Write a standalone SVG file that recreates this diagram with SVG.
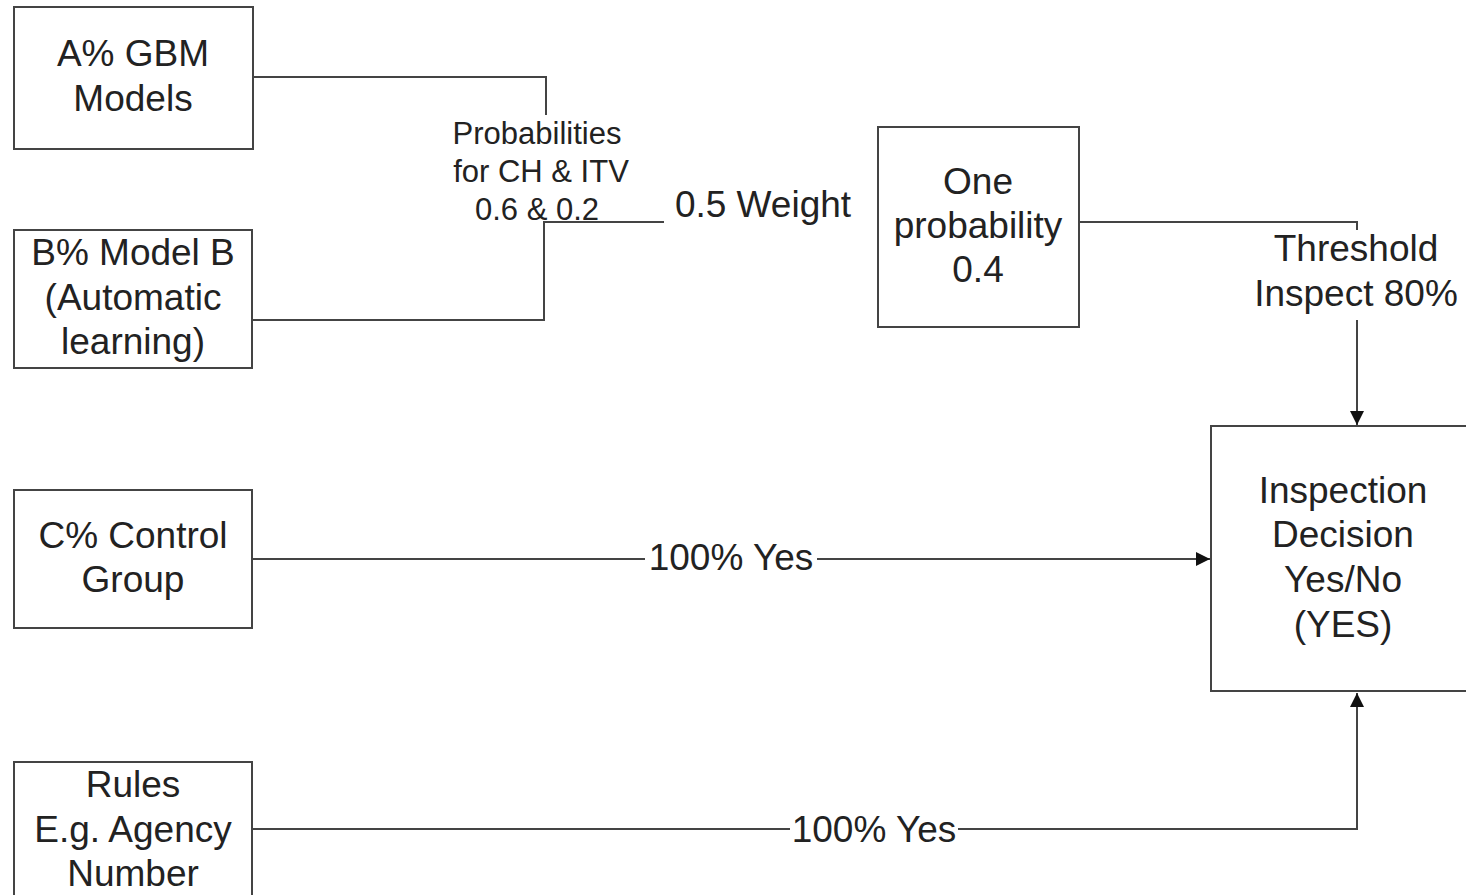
<svg xmlns="http://www.w3.org/2000/svg" width="1466" height="895" viewBox="0 0 1466 895">
<defs>
<style>
.box{fill:#fff;stroke:#444;stroke-width:2}
.ln{fill:none;stroke:#444;stroke-width:2}
text{font-family:"Liberation Sans",Arial,sans-serif;fill:#222;text-anchor:middle}
.t{font-size:37px}
.s{font-size:31px}
</style>
<marker id="arr" viewBox="0 0 10 10" refX="10" refY="5" markerWidth="14" markerHeight="14" markerUnits="userSpaceOnUse" orient="auto">
<path d="M0,0 L10,5 L0,10 Z" fill="#111"/>
</marker>
</defs>
<rect width="1466" height="895" fill="#fff"/>
<g id="connectors">
<path class="ln" d="M253,77 H546 V115"/>
<path class="ln" d="M252,320 H544 V222 H664"/>
<path class="ln" d="M1079,222 H1357 V230"/>
<path class="ln" d="M1357,320 V425" marker-end="url(#arr)"/>
<path class="ln" d="M252,559 H645"/>
<path class="ln" d="M817,559 H1210" marker-end="url(#arr)"/>
<path class="ln" d="M252,829 H790"/>
<path class="ln" d="M958,829 H1357 V693" marker-end="url(#arr)"/>
<text class="s" x="537" y="144">Probabilities</text>
<text class="s" x="541" y="182">for CH &amp; ITV</text>
<text class="s" x="537" y="220">0.6 &amp; 0.2</text>
<text class="t" x="763" y="217">0.5 Weight</text>
<text class="t" x="1356" y="261">Threshold</text>
<text class="t" x="1356" y="306">Inspect 80%</text>
<text class="t" x="731" y="570">100% Yes</text>
<text class="t" x="874" y="842">100% Yes</text>
</g>
<g id="nodeA">
<rect class="box" x="14" y="7" width="239" height="142"/>
<text class="t" x="133" y="66">A% GBM</text>
<text class="t" x="133" y="111">Models</text>
</g>
<g id="nodeB">
<rect class="box" x="14" y="230" width="238" height="138"/>
<text class="t" x="133" y="265">B% Model B</text>
<text class="t" x="133" y="310">(Automatic</text>
<text class="t" x="133" y="354">learning)</text>
</g>
<g id="nodeC">
<rect class="box" x="14" y="490" width="238" height="138"/>
<text class="t" x="133" y="548">C% Control</text>
<text class="t" x="133" y="592">Group</text>
</g>
<g id="nodeRules">
<rect class="box" x="14" y="762" width="238" height="150"/>
<text class="t" x="133" y="797">Rules</text>
<text class="t" x="133" y="842">E.g. Agency</text>
<text class="t" x="133" y="886">Number</text>
</g>
<g id="nodeOne">
<rect class="box" x="878" y="127" width="201" height="200"/>
<text class="t" x="978" y="194">One</text>
<text class="t" x="978" y="238">probability</text>
<text class="t" x="978" y="282">0.4</text>
</g>
<g id="nodeInspection">
<rect class="box" x="1211" y="426" width="270" height="265"/>
<text class="t" x="1343" y="503">Inspection</text>
<text class="t" x="1343" y="547">Decision</text>
<text class="t" x="1343" y="592">Yes/No</text>
<text class="t" x="1343" y="637">(YES)</text>
</g>
</svg>
